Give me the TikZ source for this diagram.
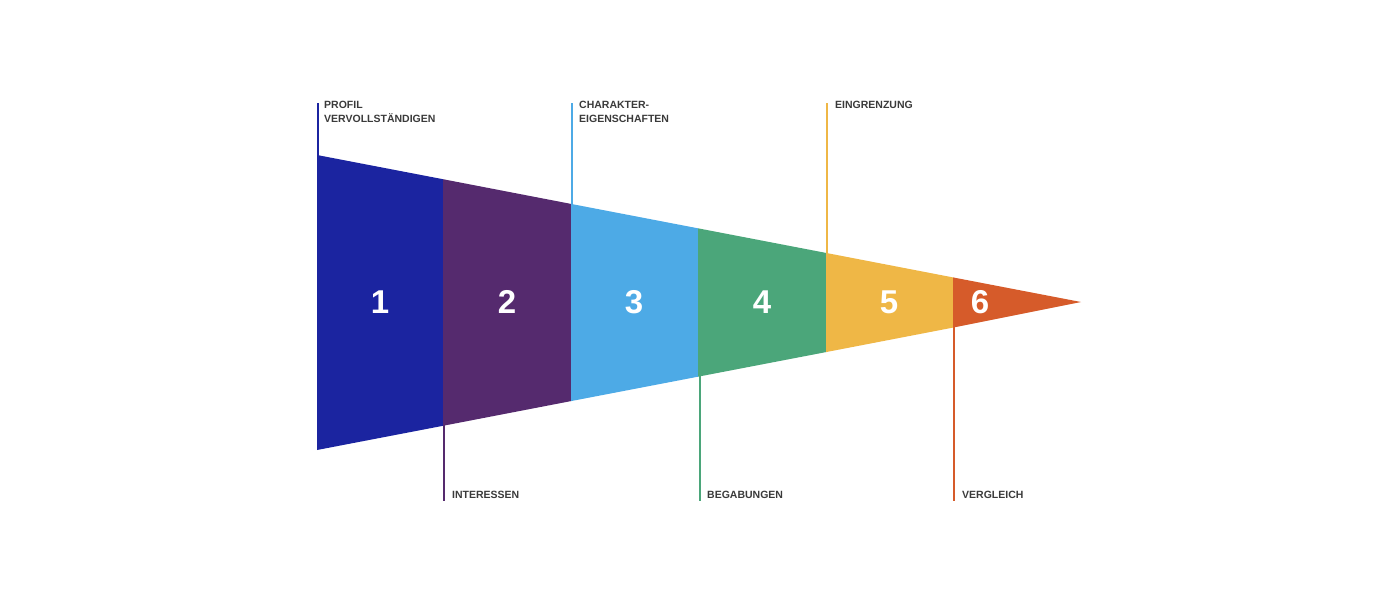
\documentclass[tikz,border=0pt]{standalone}
\usepackage{fontspec}
\setmainfont{Liberation Sans}
\definecolor{c1}{HTML}{1B24A0}
\definecolor{c2}{HTML}{552A6E}
\definecolor{c3}{HTML}{4DAAE6}
\definecolor{c4}{HTML}{4BA67A}
\definecolor{c5}{HTML}{EFB746}
\definecolor{c6}{HTML}{D65B2A}
\definecolor{txt}{HTML}{3A3A3A}
\begin{document}
\begin{tikzpicture}[x=1pt,y=-1pt,
  num/.style={text=white,font=\bfseries\fontsize{33}{33}\selectfont},
  lbl/.style={anchor=north west,inner sep=0pt,text=txt,align=left,font=\bfseries\fontsize{10.5}{14}\selectfont},
  tick/.style={line width=2.5pt}]
\useasboundingbox (0,0) rectangle (1400,600);
\fill[c1] (317,155) -- (443,179.2) -- (443,425.8) -- (317,450) -- cycle;
\fill[c2] (443,179.2) -- (571,203.9) -- (571,401.1) -- (443,425.8) -- cycle;
\fill[c3] (571,203.9) -- (698,228.3) -- (698,376.7) -- (571,401.1) -- cycle;
\fill[c4] (698,228.3) -- (826,252.9) -- (826,352.1) -- (698,376.7) -- cycle;
\fill[c5] (826,252.9) -- (953,277.4) -- (953,327.6) -- (826,352.1) -- cycle;
\fill[c6] (953,277.4) -- (1081,302) -- (953,327.6) -- cycle;
\node[num] (n1) at (380,302) {1};
\node[num] (n2) at (507,302) {2};
\node[num] (n3) at (634,302) {3};
\node[num] (n4) at (762,302) {4};
\node[num] (n5) at (889,302) {5};
\node[num] (n6) at (980,302) {6};
\draw[tick,c1] (318,103) -- (318,185);
\draw[tick,c2] (444,425) -- (444,501);
\draw[tick,c3] (572,103) -- (572,205);
\draw[tick,c4] (700,376) -- (700,501);
\draw[tick,c5] (827,103) -- (827,253);
\draw[tick,c6] (954,326) -- (954,501);
\node[lbl] (l1) at (324,101) {PROFIL\\VERVOLLSTÄNDIGEN};
\node[lbl] (l3) at (579,101) {CHARAKTER-\\EIGENSCHAFTEN};
\node[lbl] (l5) at (835,101) {EINGRENZUNG};
\node[lbl] (l2) at (452,491) {INTERESSEN};
\node[lbl] (l4) at (707,491) {BEGABUNGEN};
\node[lbl] (l6) at (962,491) {VERGLEICH};
\end{tikzpicture}
\end{document}
